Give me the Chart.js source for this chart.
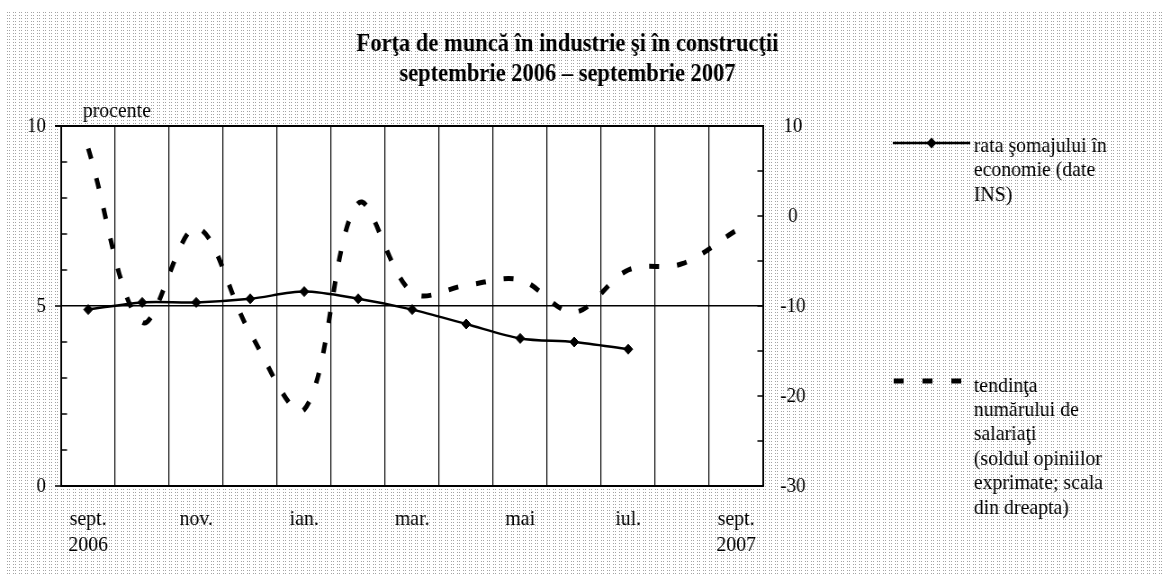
<!DOCTYPE html>
<html>
<head>
<meta charset="utf-8">
<title>Forţa de muncă în industrie şi în construcţii</title>
<script src="https://cdn.jsdelivr.net/npm/chart.js@4/dist/chart.umd.min.js"></script>
<style>
  html, body { margin: 0; padding: 0; background: #fff; overflow: hidden; }
  #bg { position: absolute; left: 7px; top: 12px; width: 1155px; height: 563px; }
  #wrap { position: absolute; left: 0; top: 0; width: 1299px; height: 580px;
          transform: scaleX(0.9); transform-origin: 0 0; }
</style>
</head>
<body>
<div id="bg"></div>
<div id="wrap"><canvas id="forta" width="1299" height="580"></canvas></div>
<script>
// date
const categories = ['sept. 2006', 'oct.', 'nov.', 'dec.', 'ian.', 'feb.', 'mar.', 'apr.', 'mai', 'iun.', 'iul.', 'aug.', 'sept. 2007'];
const tickLabels = [['sept.', '2006'], '', 'nov.', '', 'ian.', '', 'mar.', '', 'mai', '', 'iul.', '', ['sept.', '2007']];
const rataSomaj = [4.9, 5.1, 5.1, 5.2, 5.4, 5.2, 4.9, 4.5, 4.1, 4.0, 3.8];
const tendintaSalariati = [7.5, -11.8, -1.3, -13, -21.5, 1.4, -8.5, -7.7, -7.1, -10.7, -6, -5.3, -1.6];
const titleLines = ['Forţa de muncă în industrie şi în construcţii', 'septembrie 2006 – septembrie 2007'];
const unitLabel = 'procente';
const legendSomaj = ['rata şomajului în', 'economie (date', 'INS)'];
const legendSalariati = ['tendinţa', 'numărului de', 'salariaţi', '(soldul opiniilor', 'exprimate; scala', 'din dreapta)'];

// fundal punctat
const pat = document.createElement('canvas');
pat.width = 6; pat.height = 3;
const pc = pat.getContext('2d');
pc.fillStyle = '#fff'; pc.fillRect(0, 0, 6, 3);
pc.fillStyle = '#a4a4a4'; pc.fillRect(0, 0, 1, 1); pc.fillRect(2, 0, 1, 1);
document.getElementById('bg').style.backgroundImage = 'url(' + pat.toDataURL() + ')';

Chart.defaults.font.family = '"Liberation Serif", "Times New Roman", serif';
Chart.defaults.color = '#000';

// zona graficului, borduri, gradatii interioare, legenda
const decor = {
    id: 'decor',
    beforeDraw(chart) {
        const {ctx, chartArea: a} = chart;
        ctx.save();
        ctx.fillStyle = '#fff';
        ctx.fillRect(a.left, a.top, a.right - a.left, a.bottom - a.top);
        ctx.restore();
    },
    afterDraw(chart) {
        const {ctx, chartArea: a, scales} = chart;
        ctx.save();
        ctx.strokeStyle = '#000';
        ctx.fillStyle = '#000';

        ctx.lineWidth = 2;
        ctx.beginPath();
        ctx.moveTo(a.left - 7, a.top);
        ctx.lineTo(a.right + 1, a.top);
        ctx.stroke();

        ctx.lineWidth = 1.5;
        scales.y.ticks.forEach(t => {
            const y = scales.y.getPixelForValue(t.value);
            ctx.beginPath();
            if (t.value % 5 === 0) { ctx.moveTo(a.left - 7, y); ctx.lineTo(a.left, y); }
            else { ctx.moveTo(a.left, y); ctx.lineTo(a.left + 6.5, y); }
            ctx.stroke();
        });
        scales.y2.ticks.forEach(t => {
            const y = scales.y2.getPixelForValue(t.value);
            ctx.beginPath();
            ctx.moveTo(a.right, y); ctx.lineTo(a.right - 6.5, y);
            ctx.stroke();
        });

        ctx.font = '22px "Liberation Serif"';
        ctx.textAlign = 'left';
        ctx.textBaseline = 'alphabetic';
        ctx.fillText(unitLabel, 92, 117);

        // legenda 1
        ctx.lineWidth = 2.5;
        ctx.beginPath(); ctx.moveTo(992, 143); ctx.lineTo(1078, 143); ctx.stroke();
        ctx.beginPath();
        ctx.moveTo(1035, 137.5); ctx.lineTo(1040.5, 143); ctx.lineTo(1035, 148.5); ctx.lineTo(1029.5, 143);
        ctx.closePath(); ctx.fill();
        legendSomaj.forEach((s, i) => ctx.fillText(s, 1082, 152 + i * 24.4));

        // legenda 2
        ctx.lineWidth = 5;
        ctx.setLineDash([11, 21]);
        ctx.beginPath(); ctx.moveTo(993, 381); ctx.lineTo(1070, 381); ctx.stroke();
        ctx.setLineDash([]);
        legendSalariati.forEach((s, i) => ctx.fillText(s, 1082, 391.5 + i * 24.4));
        ctx.restore();
    }
};

new Chart(document.getElementById('forta'), {
    type: 'line',
    data: {
        labels: categories,
        datasets: [{
            label: legendSomaj.join(' '),
            data: rataSomaj,
            yAxisID: 'y',
            borderColor: '#000',
            borderWidth: 2.5,
            tension: 0.3,
            pointStyle: 'rectRot',
            pointRadius: 5,
            pointBackgroundColor: '#000',
            pointBorderColor: '#000',
            pointBorderWidth: 1
        }, {
            label: legendSalariati.join(' '),
            data: tendintaSalariati,
            yAxisID: 'y2',
            borderColor: '#000',
            borderWidth: 5,
            borderDash: [11, 20],
            borderCapStyle: 'butt',
            tension: 0.35,
            pointRadius: 0
        }]
    },
    options: {
        responsive: false,
        animation: false,
        events: [],
        layout: { padding: { left: 0, right: 38, top: 0, bottom: 0 } },
        plugins: {
            legend: { display: false },
            tooltip: { enabled: false },
            title: {
                display: true,
                text: titleLines,
                color: '#000',
                font: { size: 25, weight: 'bold', lineHeight: 1.2 },
                padding: { top: 30, bottom: 36 }
            }
        },
        scales: {
            x: {
                offset: true,
                grid: { offset: true, color: '#000', lineWidth: 1.2, drawTicks: false },
                border: { color: '#000', width: 2 },
                ticks: {
                    autoSkip: false, maxRotation: 0, padding: 20,
                    font: { size: 22, lineHeight: 1.2 },
                    callback: (v, i) => tickLabels[i]
                },
                afterFit: s => { s.height = 94; }
            },
            y: {
                position: 'left',
                min: 0, max: 10,
                grid: {
                    drawTicks: false,
                    lineWidth: 1.5,
                    color: c => (c.tick && c.tick.value === 5) ? '#000' : 'rgba(0,0,0,0)'
                },
                border: { color: '#000', width: 2 },
                ticks: {
                    stepSize: 1, padding: 17,
                    font: { size: 21 },
                    callback: v => (v % 5 === 0 ? v : '')
                },
                afterFit: s => { s.width = 68; }
            },
            y2: {
                position: 'right',
                min: -30, max: 10,
                grid: { drawOnChartArea: false, drawTicks: false },
                border: { color: '#000', width: 2 },
                ticks: {
                    stepSize: 5, padding: 19, crossAlign: 'center',
                    font: { size: 21 },
                    callback: v => (v % 10 === 0 ? v : '')
                },
                afterFit: s => { s.width = 413; }
            }
        }
    },
    plugins: [decor]
});
</script>
</body>
</html>
